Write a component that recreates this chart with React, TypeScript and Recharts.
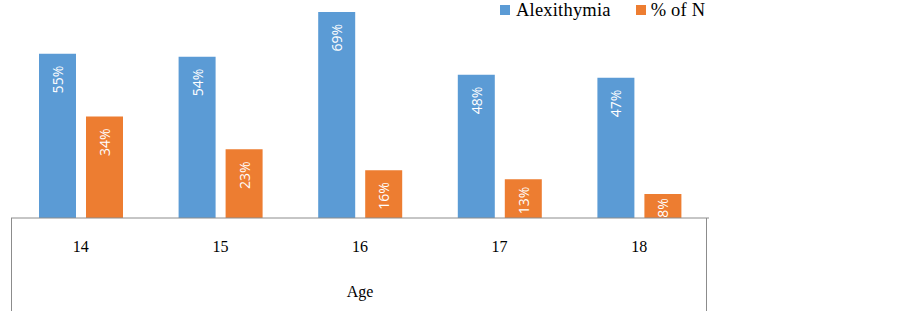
import React from 'react';
import { BarChart, Bar, XAxis, YAxis, Legend, LabelList } from 'recharts';

const ages = ['14', '15', '16', '17', '18'];
const alexithymia = [55, 54, 69, 48, 47];
const percentOfN = [34, 23, 16, 13, 8];

const data = ages.map((age, i) => ({
  age,
  alexithymia: alexithymia[i],
  percentOfN: percentOfN[i],
}));

const BLUE = '#5B9BD5';
const ORANGE = '#ED7D31';
const AXIS = '#8c8c8c';
const SERIF = '"Liberation Serif", "Times New Roman", serif';

const makeBarLabel = (prefix: string) => (props: any) => {
  const x = Number(props.x);
  const y = Number(props.y);
  const width = Number(props.width);
  const height = Number(props.height);
  const cx = x + width / 2;
  const offset = Math.min(12, Math.max(4, (height - 28) * 0.7));
  const ty = y + offset;
  const id = `${prefix}-${props.index}`;
  return (
    <g>
      <defs>
        <clipPath id={id}>
          <rect x={x} y={y} width={width} height={height} />
        </clipPath>
      </defs>
      <g clipPath={`url(#${id})`}>
        <text
          x={cx}
          y={ty}
          transform={`rotate(-90 ${cx} ${ty})`}
          textAnchor="end"
          dominantBaseline="central"
          fill="#ffffff"
          fontFamily='"Open Sans", sans-serif'
          fontSize={14}
        >
          {`${props.value}%`}
        </text>
      </g>
    </g>
  );
};

const AgeTick = (props: any) => {
  const { x, y, payload } = props;
  return (
    <text x={x} y={Number(y) + 34} textAnchor="middle" fill="#000" fontFamily={SERIF} fontSize={16}>
      {payload.value}
    </text>
  );
};

const LegendContent = () => (
  <div style={{ display: 'flex', fontFamily: SERIF, fontSize: 18.5, letterSpacing: 0.2, lineHeight: '20px', color: '#000' }}>
    <div style={{ display: 'flex', alignItems: 'center' }}>
      <span style={{ width: 10, height: 10, background: BLUE, display: 'inline-block', marginRight: 6 }} />
      <span>Alexithymia</span>
    </div>
    <div style={{ display: 'flex', alignItems: 'center', marginLeft: 25 }}>
      <span style={{ width: 10, height: 10, background: ORANGE, display: 'inline-block', marginRight: 5 }} />
      <span>% of N</span>
    </div>
  </div>
);

export default function App() {
  return (
    <div style={{ position: 'absolute', left: 0, top: 0, width: 903, height: 311, background: '#fff' }}>
      <BarChart
        width={903}
        height={311}
        data={data}
        margin={{ top: 9, right: 194, bottom: 0, left: 11 }}
        barSize={37}
        barGap={10}
      >
        <XAxis
          dataKey="age"
          height={93}
          axisLine={{ stroke: AXIS, strokeWidth: 1 }}
          tickLine={false}
          tickSize={0}
          tickMargin={0}
          tick={<AgeTick />}
          label={{ value: 'Age', position: 'insideBottom', offset: 14, fill: '#000', fontFamily: SERIF, fontSize: 16 }}
        />
        <YAxis hide domain={[0, 70]} />
        <Legend
          layout="horizontal"
          verticalAlign="middle"
          align="center"
          content={<LegendContent />}
          wrapperStyle={{ top: 0, left: 500, width: 'auto' }}
        />
        <Bar dataKey="alexithymia" name="Alexithymia" fill={BLUE} isAnimationActive={false}>
          <LabelList dataKey="alexithymia" content={makeBarLabel('clip-a')} />
        </Bar>
        <Bar dataKey="percentOfN" name="% of N" fill={ORANGE} isAnimationActive={false}>
          <LabelList dataKey="percentOfN" content={makeBarLabel('clip-b')} />
        </Bar>
      </BarChart>
      <div
        style={{
          position: 'absolute',
          left: 11,
          top: 218,
          width: 696,
          height: 93,
          borderLeft: `1px solid ${AXIS}`,
          borderRight: `1px solid ${AXIS}`,
          boxSizing: 'border-box',
          pointerEvents: 'none',
        }}
      />
    </div>
  );
}
